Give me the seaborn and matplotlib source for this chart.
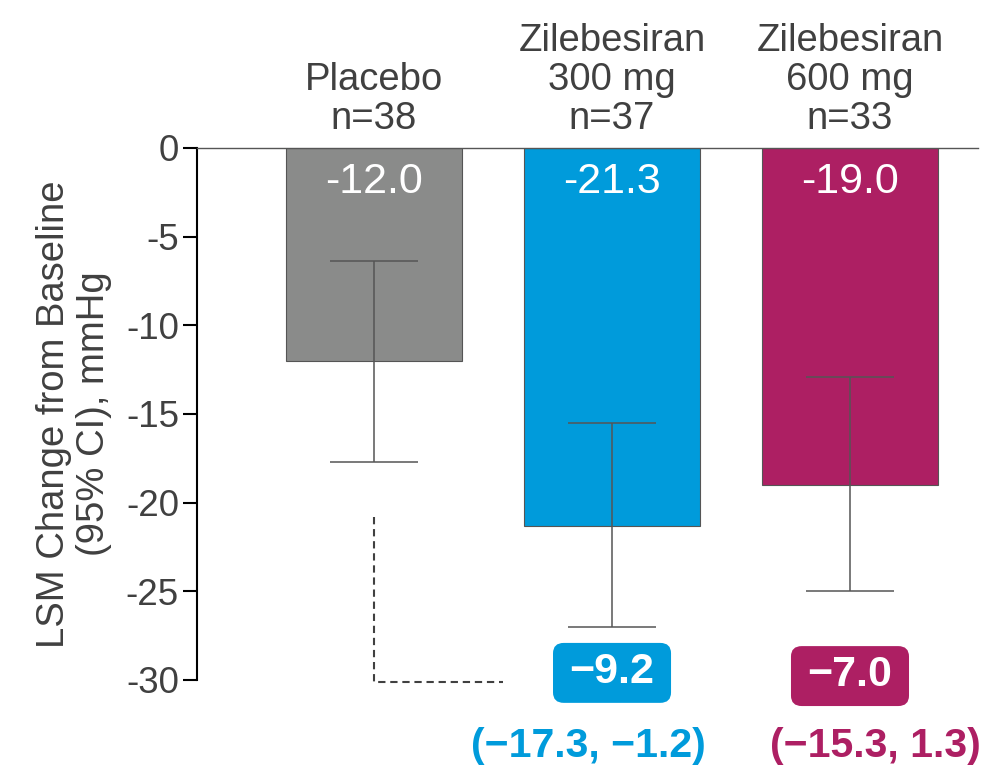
import numpy as np
import pandas as pd
import seaborn as sns
import matplotlib
matplotlib.use("Agg")
import matplotlib.pyplot as plt
from matplotlib.patches import FancyBboxPatch

# ---- data ----
categories = ["Placebo\nn=38", "Zilebesiran\n300 mg\nn=37", "Zilebesiran\n600 mg\nn=33"]
lsm = [-12.0, -21.3, -19.0]
ci_low = [-17.7, -27.0, -25.0]
ci_high = [-6.4, -15.5, -12.9]
diff_values = ["\u22129.2", "\u22127.0"]
diff_ci = ["(\u221217.3, \u22121.2)", "(\u221215.3, 1.3)"]
yticks = [0, -5, -10, -15, -20, -25, -30]
colors = ["#8a8b8a", "#009bdb", "#ad1f63"]

sns.set_theme(style="white")
plt.rcParams['font.family'] = ['Liberation Sans', 'DejaVu Sans']
plt.rcParams['axes.unicode_minus'] = False

text_col = "#404040"
line_col = "#555555"

fig = plt.figure(figsize=(9.87, 7.66), dpi=100)
ax = fig.add_axes([0.1996, 0.1123, 0.7913, 0.6945])

df = pd.DataFrame({"group": categories, "lsm": lsm})
sns.barplot(data=df, x="group", y="lsm", hue="group", palette=colors, width=0.74,
            saturation=1, edgecolor=line_col, linewidth=0.8, ax=ax, legend=False)

x = np.arange(len(categories))
lsm_a = np.array(lsm)
ax.errorbar(x, lsm_a, yerr=[lsm_a - np.array(ci_low), np.array(ci_high) - lsm_a],
            fmt='none', ecolor=line_col, elinewidth=1.1, capsize=32, capthick=1.1, zorder=5)

ax.set_xlim(-0.744, 2.538)
ax.set_ylim(-30, 0)

# spines
for s in ["right", "bottom"]:
    ax.spines[s].set_visible(False)
ax.spines["top"].set_color(line_col)
ax.spines["top"].set_linewidth(1.0)
ax.spines["left"].set_color("black")
ax.spines["left"].set_linewidth(1.5)

ax.set_yticks(yticks)
ax.set_yticklabels([str(v) for v in yticks])
ax.tick_params(axis='y', left=True, direction='out', length=10, width=1.5, color='black',
               labelsize=26.5, labelcolor=text_col, pad=3)
ax.xaxis.tick_top()
ax.tick_params(axis='x', top=True, bottom=False, length=0, labelsize=27.5,
               labelcolor=text_col, pad=8)
for lab in ax.get_xticklabels():
    lab.set_linespacing(1.1)
ax.set_xlabel("")
ax.set_ylabel("LSM Change from Baseline\n(95% CI), mmHg", fontsize=27.5, color=text_col,
              labelpad=10, linespacing=1.15)

# value labels in bars
for i, v in enumerate(lsm):
    ax.text(i, -1.9, f"{v:.1f}", ha='center', va='center', color='white', fontsize=31)

# difference boxes
box_x = [1, 2]
box_y = [-29.6, -29.78]
ci_x = [0.90, 2.105]
bw, bh = 0.496, 3.38
for j in range(2):
    patch = FancyBboxPatch((box_x[j] - bw / 2, box_y[j] - bh / 2), bw, bh,
                           boxstyle="round,pad=0,rounding_size=0.045",
                           mutation_aspect=13.0, fc=colors[j + 1], ec='none',
                           clip_on=False, zorder=6)
    ax.add_patch(patch)
    ax.text(box_x[j], box_y[j] + 0.05, diff_values[j], ha='center', va='center', color='white',
            fontsize=31, fontweight='bold', zorder=7)
    ax.text(ci_x[j], -33.7, diff_ci[j], ha='center', va='center', color=colors[j + 1],
            fontsize=29.5, fontweight='bold')

# dashed reference connector
ax.plot([0.0, 0.0, 0.54], [-20.8, -30.1, -30.1], ls=(0, (3.5, 2.3)), color=text_col,
        lw=1.5, clip_on=False)

fig.savefig("out.png", dpi=100)
